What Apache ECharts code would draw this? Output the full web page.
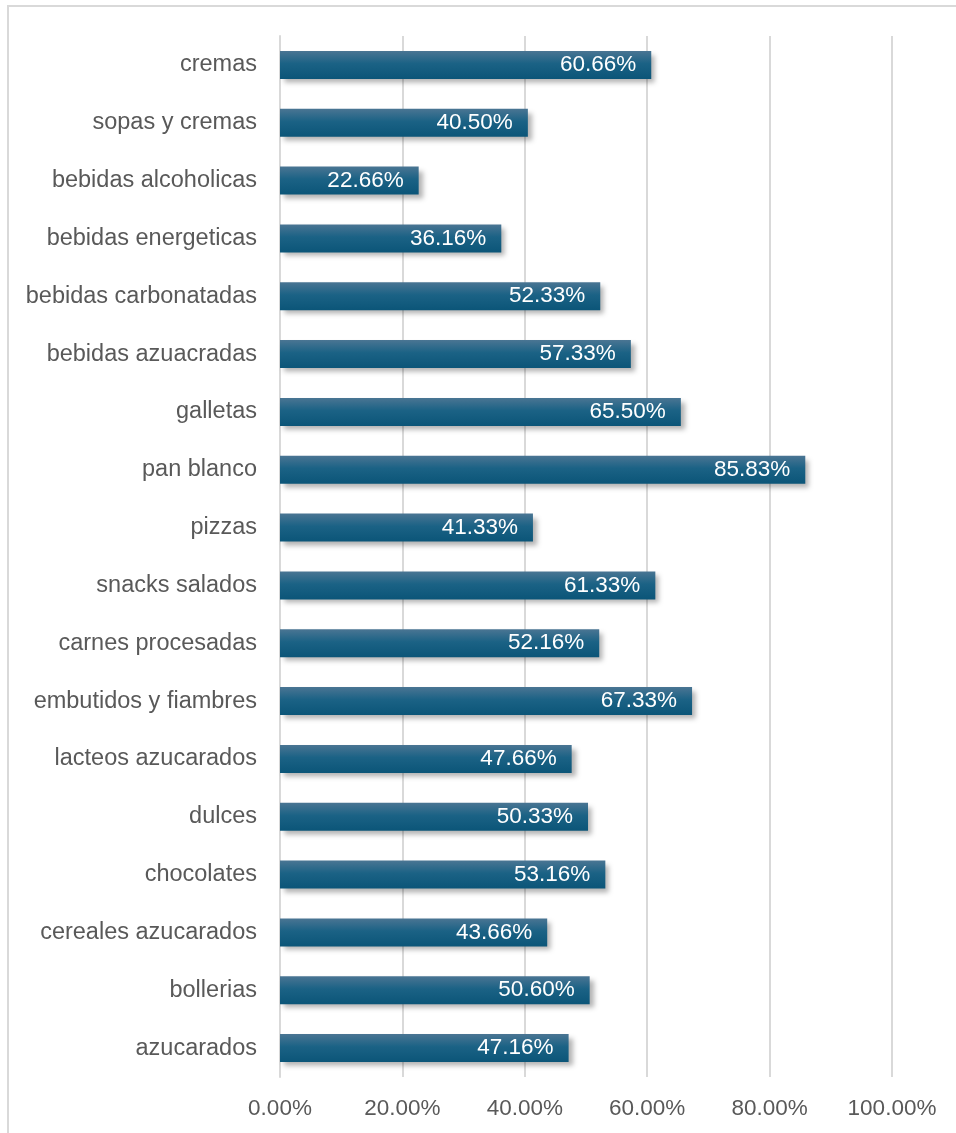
<!DOCTYPE html>
<html>
<head>
<meta charset="utf-8">
<script src="https://cdn.jsdelivr.net/npm/echarts@6/dist/echarts.min.js"></script>
<style>
  html, body { margin: 0; padding: 0; background: #fff; }
  #frame { position: absolute; left: 7px; top: 5px; width: 960px; height: 1140px;
           border-left: 2px solid #d9d9d9; border-top: 2px solid #d9d9d9; box-sizing: border-box; }
  #chart { position: absolute; left: 0; top: 0; width: 956px; height: 1133px; }
</style>
</head>
<body>
<div id="frame"></div>
<div id="chart"></div>
<script>
// Categories listed from top to bottom
const categories = [
  'cremas', 'sopas y cremas', 'bebidas alcoholicas', 'bebidas energeticas',
  'bebidas carbonatadas', 'bebidas azuacradas', 'galletas', 'pan blanco',
  'pizzas', 'snacks salados', 'carnes procesadas', 'embutidos y fiambres',
  'lacteos azucarados', 'dulces', 'chocolates', 'cereales azucarados',
  'bollerias', 'azucarados'
];
// Share of each category (percent)
const values = [
  60.66, 40.50, 22.66, 36.16, 52.33, 57.33, 65.50, 85.83,
  41.33, 61.33, 52.16, 67.33, 47.66, 50.33, 53.16, 43.66,
  50.60, 47.16
];
const axisTicks = [0, 20, 40, 60, 80, 100];

const FONT = '"Liberation Sans", Arial, sans-serif';
const chart = echarts.init(document.getElementById('chart'), null, { renderer: 'canvas' });
chart.setOption({
  backgroundColor: 'transparent',
  animation: false,
  grid: { left: 280, right: 64, top: 36, bottom: 56, containLabel: false },
  xAxis: {
    type: 'value',
    min: axisTicks[0],
    max: axisTicks[axisTicks.length - 1],
    interval: axisTicks[1] - axisTicks[0],
    axisLine: { show: false },
    axisTick: { show: false },
    splitLine: { show: true, lineStyle: { color: '#d9d9d9', width: 2 } },
    axisLabel: {
      color: '#595959', fontSize: 22.5, fontFamily: FONT,
      margin: 20,
      formatter: v => v.toFixed(2) + '%'
    }
  },
  yAxis: {
    type: 'category',
    inverse: true,
    data: categories,
    axisLine: { show: true, lineStyle: { color: '#d9d9d9', width: 2 } },
    axisTick: { show: false },
    axisLabel: {
      color: '#595959', fontSize: 23.5, fontFamily: FONT,
      margin: 23
    }
  },
  series: [{
    type: 'bar',
    data: values,
    barWidth: 28,
    itemStyle: {
      color: new echarts.graphic.LinearGradient(0, 0, 0, 1, [
        { offset: 0, color: '#4a7593' },
        { offset: 0.45, color: '#1b6285' },
        { offset: 1, color: '#0b5578' }
      ]),
      shadowColor: 'rgba(0,0,0,0.3)',
      shadowBlur: 5,
      shadowOffsetX: 4,
      shadowOffsetY: 4
    },
    label: {
      show: true,
      position: 'insideRight',
      distance: 15,
      color: '#ffffff',
      fontSize: 22.5,
      fontFamily: FONT,
      formatter: p => p.value.toFixed(2) + '%'
    }
  }]
});
</script>
</body>
</html>
